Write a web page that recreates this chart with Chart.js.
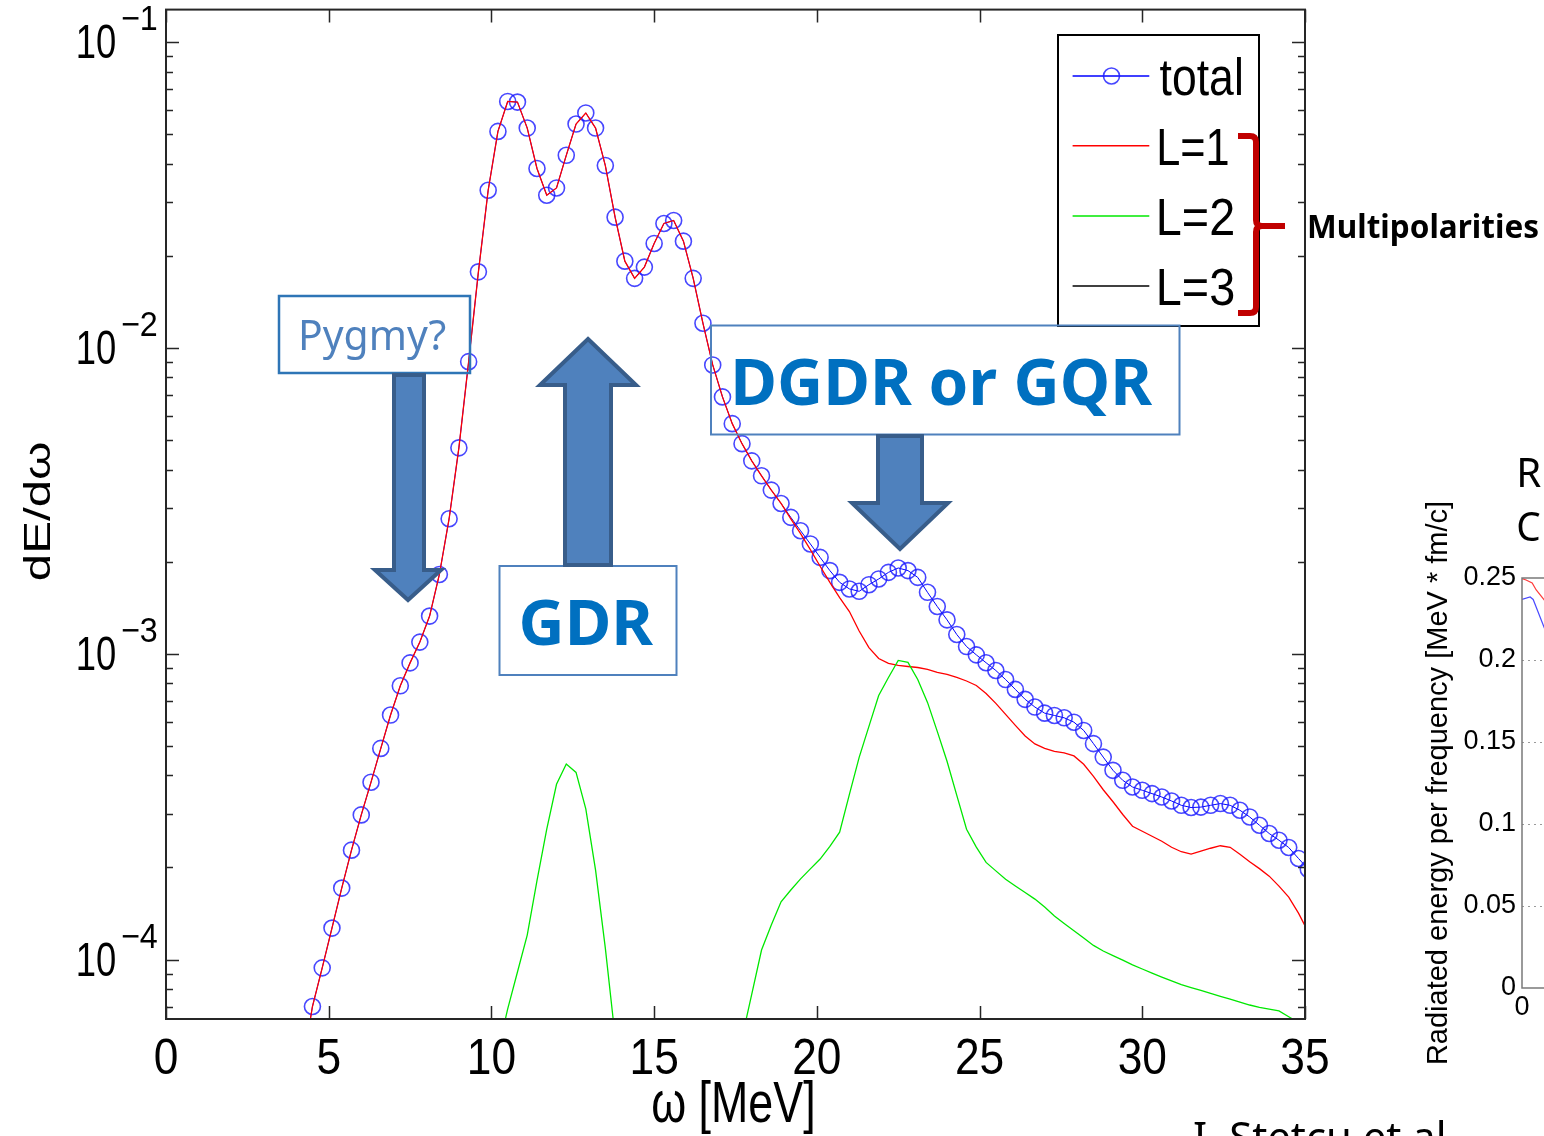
<!DOCTYPE html>
<html><head><meta charset="utf-8"><title>dE/dω multipolarities</title>
<script src="https://cdn.jsdelivr.net/npm/chart.js@4.4.1/dist/chart.umd.min.js"></script>
<style>
html,body{margin:0;padding:0;background:#fff;overflow:hidden;}
body{width:1544px;height:1136px;position:relative;}
#mainWrap{position:absolute;left:0;top:0;width:1544px;height:1136px;}
#fragWrap{position:absolute;left:1380px;top:430px;width:700px;height:640px;}
</style></head><body>
<div id="mainWrap"><canvas id="mainChart"></canvas></div>
<div id="fragWrap"><canvas id="fragChart"></canvas></div>
<script>
// ---------------- DATA ----------------
const energyMeV = [
  4.2, 4.5, 4.8, 5.1, 5.4, 5.7, 6.0, 6.3, 6.6, 6.9,
  7.2, 7.5, 7.8, 8.1, 8.4, 8.7, 9.0, 9.3, 9.6, 9.9,
  10.2, 10.5, 10.8, 11.1, 11.4, 11.7, 12.0, 12.3, 12.6, 12.9,
  13.2, 13.5, 13.8, 14.1, 14.4, 14.7, 15.0, 15.3, 15.6, 15.9,
  16.2, 16.5, 16.8, 17.1, 17.4, 17.7, 18.0, 18.3, 18.6, 18.9,
  19.2, 19.5, 19.8, 20.1, 20.4, 20.7, 21.0, 21.3, 21.6, 21.9,
  22.2, 22.5, 22.8, 23.1, 23.4, 23.7, 24.0, 24.3, 24.6, 24.9,
  25.2, 25.5, 25.8, 26.1, 26.4, 26.7, 27.0, 27.3, 27.6, 27.9,
  28.2, 28.5, 28.8, 29.1, 29.4, 29.7, 30.0, 30.3, 30.6, 30.9,
  31.2, 31.5, 31.8, 32.1, 32.4, 32.7, 33.0, 33.3, 33.6, 33.9,
  34.2, 34.5, 34.8, 35.1
];
const totalDE = [
  4.5e-5, 7.02e-5, 9.39e-5, 1.267e-4, 1.712e-4, 2.278e-4, 2.97e-4, 3.80e-4, 4.90e-4, 6.30e-4,
  7.85e-4, 9.33e-4, 1.091e-3, 1.327e-3, 1.815e-3, 2.762e-3, 4.71e-3, 9.01e-3, 1.772e-2, 3.275e-2,
  5.10e-2, 6.39e-2, 6.36e-2, 5.23e-2, 3.857e-2, 3.154e-2, 3.332e-2, 4.26e-2, 5.39e-2, 5.86e-2,
  5.23e-2, 3.944e-2, 2.674e-2, 1.92e-2, 1.687e-2, 1.836e-2, 2.194e-2, 2.55e-2, 2.608e-2, 2.232e-2,
  1.687e-2, 1.203e-2, 8.79e-3, 6.91e-3, 5.65e-3, 4.86e-3, 4.27e-3, 3.816e-3, 3.426e-3, 3.098e-3,
  2.79e-3, 2.523e-3, 2.284e-3, 2.065e-3, 1.869e-3, 1.711e-3, 1.628e-3, 1.599e-3, 1.681e-3, 1.755e-3,
  1.844e-3, 1.906e-3, 1.869e-3, 1.776e-3, 1.587e-3, 1.426e-3, 1.29e-3, 1.155e-3, 1.055e-3, 9.91e-4,
  9.34e-4, 8.81e-4, 8.23e-4, 7.64e-4, 7.09e-4, 6.69e-4, 6.39e-4, 6.28e-4, 6.17e-4, 5.97e-4,
  5.61e-4, 5.08e-4, 4.59e-4, 4.155e-4, 3.854e-4, 3.665e-4, 3.575e-4, 3.487e-4, 3.399e-4, 3.298e-4,
  3.193e-4, 3.14e-4, 3.15e-4, 3.193e-4, 3.235e-4, 3.193e-4, 3.076e-4, 2.925e-4, 2.748e-4, 2.582e-4,
  2.455e-4, 2.324e-4, 2.14e-4, 1.974e-4
];
const dipoleL1 = [
  4.5e-5, 7.02e-5, 9.39e-5, 1.267e-4, 1.712e-4, 2.278e-4, 2.97e-4, 3.80e-4, 4.90e-4, 6.30e-4,
  7.85e-4, 9.33e-4, 1.091e-3, 1.327e-3, 1.815e-3, 2.762e-3, 4.71e-3, 9.01e-3, 1.772e-2, 3.275e-2,
  5.10e-2, 6.39e-2, 6.36e-2, 5.23e-2, 3.857e-2, 3.154e-2, 3.332e-2, 4.26e-2, 5.39e-2, 5.86e-2,
  5.23e-2, 3.944e-2, 2.674e-2, 1.92e-2, 1.687e-2, 1.836e-2, 2.194e-2, 2.55e-2, 2.608e-2, 2.232e-2,
  1.687e-2, 1.203e-2, 8.79e-3, 6.91e-3, 5.65e-3, 4.86e-3, 4.27e-3, 3.816e-3, 3.426e-3, 3.098e-3,
  2.76e-3, 2.468e-3, 2.188e-3, 1.931e-3, 1.711e-3, 1.525e-3, 1.373e-3, 1.186e-3, 1.047e-3, 9.64e-4,
  9.29e-4, 9.15e-4, 9.08e-4, 9.01e-4, 8.88e-4, 8.68e-4, 8.55e-4, 8.36e-4, 8.14e-4, 7.87e-4,
  7.41e-4, 6.88e-4, 6.33e-4, 5.83e-4, 5.38e-4, 5.07e-4, 4.90e-4, 4.79e-4, 4.74e-4, 4.63e-4,
  4.35e-4, 3.97e-4, 3.59e-4, 3.28e-4, 2.98e-4, 2.727e-4, 2.627e-4, 2.529e-4, 2.436e-4, 2.328e-4,
  2.251e-4, 2.21e-4, 2.26e-4, 2.311e-4, 2.355e-4, 2.328e-4, 2.21e-4, 2.089e-4, 1.982e-4, 1.873e-4,
  1.738e-4, 1.60e-4, 1.418e-4, 1.229e-4
];
const quadL2 = [
  null, null, null, null, null, null, null, null, null, null,
  null, null, null, null, null, null, null, null, null, null,
  5.0e-5, 6.9e-5, 9.1e-5, 1.202e-4, 1.811e-4, 2.667e-4, 3.74e-4, 4.36e-4, 4.09e-4, 3.11e-4,
  1.959e-4, 1.09e-4, 5.6e-5, null, null, null, null, null, null, null,
  null, null, null, null, null, 5.54e-5, 7.71e-5, 1.074e-4, 1.296e-4, 1.545e-4,
  1.688e-4, 1.835e-4, 1.978e-4, 2.13e-4, 2.343e-4, 2.607e-4, 3.469e-4, 4.58e-4, 5.785e-4, 7.30e-4,
  8.36e-4, 9.50e-4, 9.36e-4, 8.23e-4, 6.93e-4, 5.57e-4, 4.45e-4, 3.44e-4, 2.667e-4, 2.33e-4,
  2.077e-4, 1.949e-4, 1.831e-4, 1.74e-4, 1.656e-4, 1.576e-4, 1.484e-4, 1.387e-4, 1.312e-4, 1.242e-4,
  1.175e-4, 1.112e-4, 1.066e-4, 1.03e-4, 9.95e-5, 9.61e-5, 9.31e-5, 9.03e-5, 8.76e-5, 8.51e-5,
  8.28e-5, 8.10e-5, 7.92e-5, 7.75e-5, 7.58e-5, 7.42e-5, 7.26e-5, 7.10e-5, 6.97e-5, 6.88e-5,
  6.79e-5, 6.50e-5, 6.22e-5, 5.9e-5
];
const octL3 = [];   // L=3 lies below the plotted range
const seriesLabels = ['total', 'L=1', 'L=2', 'L=3'];
const xTickValues = [0, 5, 10, 15, 20, 25, 30, 35];
const yTickExponents = [-1, -2, -3, -4];
const yMin = 6.39e-5, yMax = 0.1276;

// partial neighbouring chart on the right edge of the slide
const fragRedX = [0, 0.4, 1.0, 1.4, 2.2, 3.0];
const fragRedY = [0.2497, 0.2488, 0.2470, 0.2427, 0.2365, 0.2280];
const fragBlueX = [0, 0.8, 1.1, 2.2, 3.0];
const fragBlueY = [0.2369, 0.2384, 0.2369, 0.2195, 0.2100];

// ---------------- HELPERS ----------------
const MAT_FONT = '"Liberation Sans", Arial, Helvetica, sans-serif';
const SLIDE_FONT = '"Noto Sans", "Open Sans", Lato, sans-serif';

function fitText(ctx, text, font, color, left, right, top, base) {
  ctx.save();
  ctx.font = font;
  ctx.fillStyle = color;
  ctx.textAlign = 'left';
  ctx.textBaseline = 'alphabetic';
  const m = ctx.measureText(text);
  const w = m.actualBoundingBoxLeft + m.actualBoundingBoxRight;
  const h = m.actualBoundingBoxAscent;
  const sx = (right - left) / w;
  const sy = (base - top) / h;
  ctx.translate(left + m.actualBoundingBoxLeft * sx, base);
  ctx.scale(sx, sy);
  ctx.fillText(text, 0, 0);
  ctx.restore();
}
function uniformText(ctx, text, font, color, left, right, top) {
  ctx.save();
  ctx.font = font;
  ctx.fillStyle = color;
  ctx.textAlign = 'left';
  ctx.textBaseline = 'alphabetic';
  const m = ctx.measureText(text);
  const w = m.actualBoundingBoxLeft + m.actualBoundingBoxRight;
  const s = (right - left) / w;
  const base = top + m.actualBoundingBoxAscent * s;
  ctx.translate(left + m.actualBoundingBoxLeft * s, base);
  ctx.scale(s, s);
  ctx.fillText(text, 0, 0);
  ctx.restore();
}
function poly(ctx, pts, fill, stroke, lw) {
  ctx.save();
  ctx.beginPath();
  ctx.moveTo(pts[0][0], pts[0][1]);
  for (let i = 1; i < pts.length; i++) ctx.lineTo(pts[i][0], pts[i][1]);
  ctx.closePath();
  ctx.fillStyle = fill; ctx.fill();
  ctx.lineJoin = 'miter'; ctx.lineWidth = lw; ctx.strokeStyle = stroke; ctx.stroke();
  ctx.restore();
}

// ---------------- MAIN FIGURE PLUGIN ----------------
const matlabFigure = {
  id: 'matlabFigure',
  afterDatasetsDraw(chart) {
    const ctx = chart.ctx;
    const {left, right, top, bottom} = chart.chartArea;
    const xs = chart.scales.x, ys = chart.scales.y;
    ctx.save();
    // ticks (inside, mirrored)
    ctx.strokeStyle = '#262626';
    ctx.lineWidth = 1.5;
    ctx.beginPath();
    xTickValues.forEach(v => {
      const px = Math.round(xs.getPixelForValue(v)) + 0.5;
      ctx.moveTo(px, bottom); ctx.lineTo(px, bottom - 13);
      ctx.moveTo(px, top); ctx.lineTo(px, top + 13);
    });
    for (let e = -5; e <= 0; e++) {
      for (let m = 1; m <= 9; m++) {
        const v = m * Math.pow(10, e);
        if (v < yMin || v > yMax) continue;
        const py = Math.round(ys.getPixelForValue(v)) + 0.5;
        const len = (m === 1) ? 13 : 7;
        ctx.moveTo(left, py); ctx.lineTo(left + len, py);
        ctx.moveTo(right, py); ctx.lineTo(right - len, py);
      }
    }
    ctx.stroke();
    // frame
    ctx.lineWidth = 2;
    ctx.strokeRect(left, top, right - left, bottom - top);
    ctx.restore();

    // x tick labels
    ctx.save();
    ctx.font = '50px ' + MAT_FONT;
    const m10 = ctx.measureText('10');
    const sxX = 45 / (m10.actualBoundingBoxLeft + m10.actualBoundingBoxRight);
    const syX = 36.6 / m10.actualBoundingBoxAscent;
    ctx.fillStyle = '#000';
    ctx.textAlign = 'center';
    ctx.textBaseline = 'alphabetic';
    xTickValues.forEach(v => {
      const px = xs.getPixelForValue(v);
      ctx.save();
      ctx.translate(px, bottom + 55.3);
      ctx.scale(sxX, syX);
      ctx.fillText(String(v), 0, 0);
      ctx.restore();
    });
    ctx.restore();

    // y tick labels 10^-n
    ctx.save();
    ctx.font = '30px ' + MAT_FONT;
    const ms = ctx.measureText('\u22122');
    const sxS = 35 / (ms.actualBoundingBoxLeft + ms.actualBoundingBoxRight);
    const syS = 23.3 / ms.actualBoundingBoxAscent;
    ctx.restore();
    yTickExponents.forEach(e => {
      const py = ys.getPixelForValue(Math.pow(10, e));
      fitText(ctx, '10', '50px ' + MAT_FONT, '#000', 78, 115, py + 16 - 35, py + 16);
      ctx.save();
      ctx.font = '30px ' + MAT_FONT;
      ctx.fillStyle = '#000';
      ctx.textAlign = 'left';
      ctx.textBaseline = 'alphabetic';
      const txt = '\u2212' + Math.abs(e);
      const mm = ctx.measureText(txt);
      ctx.translate(122 + mm.actualBoundingBoxLeft * sxS, py - 12);
      ctx.scale(sxS, syS);
      ctx.fillText(txt, 0, 0);
      ctx.restore();
    });

    // axis titles
    fitText(ctx, '\u03c9 [MeV]', '50px ' + MAT_FONT, '#000', 653, 813, 1081, 1122);
    ctx.save();
    ctx.translate(50, 580);
    ctx.rotate(-Math.PI / 2);
    fitText(ctx, 'dE/d\u03c9', '40px ' + MAT_FONT, '#000', 0, 137, -28, 0);
    ctx.restore();

    // legend
    ctx.save();
    ctx.fillStyle = '#fff';
    ctx.fillRect(1058, 35, 201, 291);
    ctx.strokeStyle = '#000';
    ctx.lineWidth = 2;
    ctx.strokeRect(1058, 35, 201, 291);
    const rowsY = [76, 145.7, 216, 286];
    const textBox = [[1241, 58.3, 95], [1228, 128.3, 165], [1233.5, 198.3, 235], [1233.5, 268.3, 305]];
    chart.data.datasets.forEach((ds, i) => {
      const y = rowsY[i];
      ctx.strokeStyle = ds.borderColor;
      ctx.lineWidth = 1.5;
      ctx.beginPath(); ctx.moveTo(1072.6, y); ctx.lineTo(1149.3, y); ctx.stroke();
      if (ds.pointRadius > 0) {
        ctx.strokeStyle = ds.pointBorderColor;
        ctx.lineWidth = ds.pointBorderWidth;
        ctx.beginPath(); ctx.arc(1111.5, y, ds.pointRadius, 0, 2 * Math.PI); ctx.stroke();
      }
      const tb = textBox[i];
      fitText(ctx, ds.label, '50px ' + MAT_FONT, '#000', 1159.6, tb[0], tb[1], tb[2]);
    });
    ctx.restore();
  },
  afterDraw(chart) {
    const ctx = chart.ctx;
    // ---- slide annotations ----
    ctx.save();
    // Pygmy? box
    ctx.strokeStyle = '#2E75B6'; ctx.lineWidth = 2.5;
    ctx.strokeRect(279, 296, 191, 77);
    fitText(ctx, 'Pygmy?', '40px ' + SLIDE_FONT, '#4F81BD', 301, 446, 320, 350);
    // GDR box
    ctx.strokeStyle = '#4F81BD'; ctx.lineWidth = 2;
    ctx.strokeRect(499.5, 566, 177, 109);
    fitText(ctx, 'GDR', 'bold 62px ' + SLIDE_FONT, '#0070C0', 521.7, 653.3, 598, 645);
    // DGDR box
    ctx.strokeRect(711, 325.5, 468.5, 109);
    fitText(ctx, 'DGDR or GQR', 'bold 62px ' + SLIDE_FONT, '#0070C0', 735.5, 1152.5, 356.7, 405);
    ctx.restore();

    // arrows
    const aFill = '#4F81BD', aStroke = '#385D8A';
    poly(ctx, [[394, 375], [424, 375], [424, 570], [441, 570], [408, 600], [375, 570], [394, 570]], aFill, aStroke, 4);
    poly(ctx, [[588, 339], [636, 385], [611, 385], [611, 565], [565, 565], [565, 385], [540, 385]], aFill, aStroke, 4);
    poly(ctx, [[878, 436], [922, 436], [922, 503], [948, 503], [900, 549], [852, 503], [878, 503]], aFill, aStroke, 4);

    // red brace
    ctx.save();
    ctx.strokeStyle = '#C00000';
    ctx.lineWidth = 6;
    ctx.lineJoin = 'round';
    ctx.lineCap = 'butt';
    ctx.beginPath();
    ctx.moveTo(1238, 136);
    ctx.lineTo(1250, 136);
    ctx.quadraticCurveTo(1256, 136, 1256, 142);
    ctx.lineTo(1256, 220);
    ctx.quadraticCurveTo(1256, 226, 1262, 226);
    ctx.lineTo(1285, 226);
    ctx.moveTo(1262, 226);
    ctx.quadraticCurveTo(1256, 226, 1256, 232);
    ctx.lineTo(1256, 307);
    ctx.quadraticCurveTo(1256, 313, 1250, 313);
    ctx.lineTo(1238, 313);
    ctx.stroke();
    ctx.restore();

    fitText(ctx, 'Multipolarities', 'bold 32px ' + SLIDE_FONT, '#000', 1309, 1538, 213, 238);
    fitText(ctx, 'R', '44px ' + SLIDE_FONT, '#000', 1520, 1541, 458.7, 487);
    fitText(ctx, 'C', '44px ' + SLIDE_FONT, '#000', 1518, 1540, 512.7, 541);
    uniformText(ctx, 'I. Stetcu et al', '40px ' + SLIDE_FONT, '#000', 1194, 1443, 1121);
  }
};

function buildMain() {
  const mk = arr => energyMeV.map((e, i) => ({x: e, y: arr[i] === undefined ? null : arr[i]}));
  new Chart(document.getElementById('mainChart'), {
    type: 'line',
    data: {
      datasets: [
        {label: seriesLabels[0], data: mk(totalDE), borderColor: '#0000FF', borderWidth: 1,
         pointRadius: 8, pointHoverRadius: 8, pointBorderWidth: 1.6,
         pointBorderColor: 'rgba(25,25,255,0.8)', pointBackgroundColor: 'rgba(0,0,0,0)',
         order: 3, clip: 0},
        {label: seriesLabels[1], data: mk(dipoleL1), borderColor: '#FF0000', borderWidth: 1.3,
         pointRadius: 0, order: 2, clip: 0},
        {label: seriesLabels[2], data: mk(quadL2), borderColor: '#00E800', borderWidth: 1.3,
         pointRadius: 0, spanGaps: false, order: 1, clip: 0},
        {label: seriesLabels[3], data: octL3, borderColor: '#000000', borderWidth: 1.3,
         pointRadius: 0, order: 0, clip: 0}
      ]
    },
    options: {
      responsive: true, maintainAspectRatio: false, animation: false,
      layout: {padding: {left: 0, right: 239, top: 8, bottom: 0}},
      plugins: {legend: {display: false}, tooltip: {enabled: false}},
      elements: {line: {tension: 0}},
      scales: {
        x: {type: 'linear', min: 0, max: 35,
            ticks: {display: false, stepSize: 5},
            grid: {display: false, drawTicks: false}, border: {display: false},
            afterFit: s => { s.height = 117; }},
        y: {type: 'logarithmic', min: yMin, max: yMax,
            ticks: {display: false},
            grid: {display: false, drawTicks: false}, border: {display: false},
            afterFit: s => { s.width = 166; }}
      }
    },
    plugins: [matlabFigure]
  });
}

const fragFrame = {
  id: 'fragFrame',
  afterDraw(chart) {
    const ctx = chart.ctx;
    const {left, right, top, bottom} = chart.chartArea;
    ctx.save();
    ctx.strokeStyle = '#7a7a7a';
    ctx.lineWidth = 1.5;
    ctx.beginPath();
    ctx.moveTo(right, top); ctx.lineTo(left, top); ctx.lineTo(left, bottom); ctx.lineTo(right, bottom);
    ctx.stroke();
    ctx.restore();
  }
};

function buildFrag() {
  new Chart(document.getElementById('fragChart'), {
    type: 'line',
    data: {
      datasets: [
        {data: fragRedX.map((x, i) => ({x: x, y: fragRedY[i]})), borderColor: '#FF3B3B', borderWidth: 1.2, pointRadius: 0, clip: 0},
        {data: fragBlueX.map((x, i) => ({x: x, y: fragBlueY[i]})), borderColor: '#4A4AFF', borderWidth: 1.2, pointRadius: 0, clip: 0}
      ]
    },
    options: {
      responsive: true, maintainAspectRatio: false, animation: false,
      layout: {padding: {left: 0, right: 50, top: 148, bottom: 0}},
      plugins: {legend: {display: false}, tooltip: {enabled: false}},
      scales: {
        x: {type: 'linear', min: 0, max: 50,
            ticks: {stepSize: 10, color: '#000', padding: 3, maxRotation: 0,
                    font: {family: MAT_FONT, size: 27}},
            grid: {display: false, drawTicks: false}, border: {display: false},
            afterFit: s => { s.height = 82; }},
        y: {type: 'linear', min: 0, max: 0.25,
            ticks: {stepSize: 0.05, color: '#000', padding: 6,
                    font: {family: MAT_FONT, size: 27},
                    callback: v => String(Math.round(v * 100) / 100)},
            grid: {drawTicks: false, lineWidth: 1, borderDash: [2, 4],
                   color: c => (c.tick && (Math.abs(c.tick.value) < 1e-9 || Math.abs(c.tick.value - 0.25) < 1e-9)) ? 'rgba(0,0,0,0)' : '#9a9a9a'},
            border: {display: false, dash: [2, 4]},
            title: {display: true, text: 'Radiated energy per frequency [MeV * fm/c]', color: '#000',
                    font: {family: MAT_FONT, size: 29}, padding: {top: 42, bottom: 0}},
            afterFit: s => { s.width = 142; }}
      }
    },
    plugins: [fragFrame]
  });
}

const fontsReady = Promise.all([
  document.fonts.load('50px "Liberation Sans"'),
  document.fonts.load('40px "Noto Sans"'),
  document.fonts.load('bold 40px "Noto Sans"')
]).catch(() => null);
let built = false;
function buildAll() { if (built) return; built = true; buildMain(); buildFrag(); }
fontsReady.then(buildAll);
setTimeout(buildAll, 400);
</script>
</body></html>
